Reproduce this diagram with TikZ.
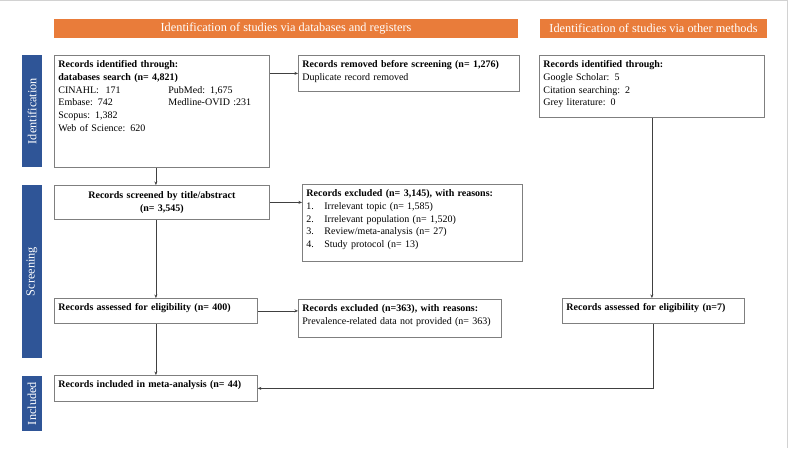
\documentclass[tikz,border=0pt]{standalone}
\usepackage{fontspec}
\setmainfont{Liberation Serif}
\usetikzlibrary{arrows.meta, positioning, calc}
\definecolor{banner}{HTML}{E97C3A}
\definecolor{phase}{HTML}{2F5597}
\definecolor{boxline}{HTML}{7F7F7F}
\definecolor{edge}{HTML}{404040}
\newcommand{\bodyfont}{\fontsize{10}{12.8}\selectfont}
\newcommand{\headfont}{\fontsize{12.3}{14}\selectfont}
\tikzset{
  bx/.style={draw=boxline, line width=0.8pt, fill=white, anchor=north west, align=left,
    font=\bodyfont, inner sep=4pt, text height=8pt},
  bc/.style={draw=boxline, line width=0.8pt, fill=white, anchor=north west, align=center,
    font=\bodyfont, inner sep=4pt},
  ban/.style={fill=banner, text=white, font=\headfont, minimum height=19pt, inner sep=0pt},
  ph/.style={fill=phase, text=white, font=\headfont, rotate=90, minimum height=20pt, inner sep=0pt},
  a/.style={-{Stealth[length=3.5pt, width=3pt]}, draw=edge, line width=0.7pt},
}

\begin{document}
\begin{tikzpicture}[x=1pt, y=-1pt]
\useasboundingbox (0,0) rectangle (788,448);
\draw[gray!35, line width=1pt] (0,0.5) -- (787.5,0.5) -- (787.5,448);

% ---- banners and phase bars ----
\node[ban, minimum width=464pt] (bandb)  at (286, 28.5)   {Identification of studies via databases and registers};
\node[ban, minimum width=227pt] (banoth) at (653.5, 28.5) {Identification of studies via other methods};
\node[ph, minimum width=112pt] (phid)  at (32, 111)   {Identification};
\node[ph, minimum width=173pt] (phscr) at (32, 271.5) {Screening};
\node[ph, minimum width=55pt]  (phinc) at (32, 403.5) {Included};

% ---- database column ----
\node[bx, text width=207pt, text depth=96pt] (ident) at (54, 55)
  {\textbf{Records identified through:}\\
   \textbf{databases search (n= 4,821)}\\
   \begin{tabular}[t]{@{}p{110pt}@{}l@{}}
   CINAHL:\ \ 171 & PubMed: 1,675\\
   Embase: 742 & Medline-OVID :231\\
   Scopus: 1,382 & \\
   Web of Science: 620 &
   \end{tabular}};
\node[bc, text width=207pt, minimum height=34pt] (screened) at (54, 185)
  {\textbf{Records screened by title/abstract}\\\textbf{(n= 3,545)}};
\node[bx, text width=195pt, text depth=9pt]  (assessed) at (54, 298)
  {\textbf{Records assessed for eligibility (n= 400)}};
\node[bx, text width=195pt, text depth=10pt] (included) at (54, 375)
  {\textbf{Records included in meta-analysis (n= 44)}};

% ---- removed / excluded ----
\node[bx, text width=213pt, text depth=20pt] (removed) at (298, 55)
  {\textbf{Records removed before screening (n= 1,276)}\\Duplicate record removed};
\node[bx, text width=212pt, text depth=61pt] (excl) at (302, 184)
  {\textbf{Records excluded (n= 3,145), with reasons:}\\
   \begin{tabular}[t]{@{}p{18pt}@{}l@{}}
   1. & Irrelevant topic (n= 1,585)\\
   2. & Irrelevant population (n= 1,520)\\
   3. & Review/meta-analysis (n= 27)\\
   4. & Study protocol (n= 13)
   \end{tabular}};
\node[bx, text width=195pt, text depth=22pt] (exclelig) at (298, 299)
  {\textbf{Records excluded (n=363), with reasons:}\\Prevalence-related data not provided (n= 363)};

% ---- other methods column ----
\node[bx, text width=217pt, text depth=46pt] (other) at (539, 55)
  {\textbf{Records identified through:}\\Google Scholar: 5\\Citation searching: 2\\Grey literature: 0};
\node[bx, text width=174pt, text depth=9pt] (otherelig) at (562, 298)
  {\textbf{Records assessed for eligibility (n=7)}};

% ---- edges ----
\draw[a] (removed.west -| ident.east) -- (removed.west);
\draw[a] (assessed.north |- ident.south) -- (assessed.north |- screened.north);
\draw[a] (screened.east) -- (screened.east -| excl.west);
\draw[a] (assessed.north |- screened.south) -- (assessed.north);
\draw[a] (assessed.east) -- (assessed.east -| exclelig.west);
\draw[a] (assessed.south) -- (included.north);
\draw[a] (other.south) -- (other.south |- otherelig.north);
\draw[a] (otherelig.south) |- (included.east);
\end{tikzpicture}
\end{document}
